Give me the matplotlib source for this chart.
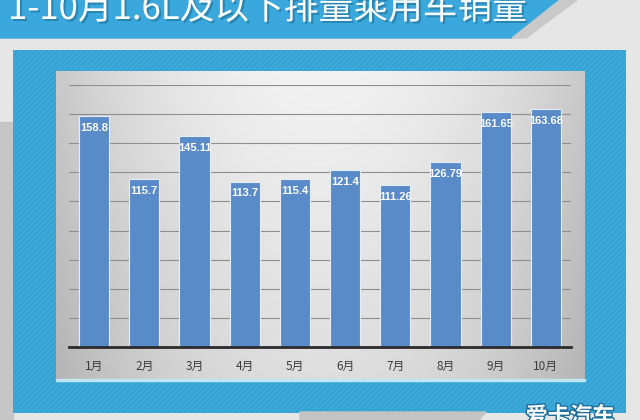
import numpy as np
import matplotlib.pyplot as plt
import matplotlib.patheffects as pe
from matplotlib.patches import Polygon, Rectangle

plt.rcParams['font.family'] = ['Noto Sans CJK SC', 'DejaVu Sans']
plt.rcParams['hatch.linewidth'] = 0.6

# data
months = ['1月', '2月', '3月', '4月', '5月', '6月', '7月', '8月', '9月', '10月']
sales = [158.8, 115.7, 145.11, 113.7, 115.4, 121.4, 111.26, 126.79, 161.65, 163.68]
title = '1-10月1.6L及以下排量乘用车销量'

W, H = 640, 420
fig = plt.figure(figsize=(W / 100, H / 100), dpi=100)

# background layer in pixel coords
bg = fig.add_axes([0, 0, 1, 1])
bg.set_xlim(0, W)
bg.set_ylim(H, 0)
bg.axis('off')
bg.add_patch(Rectangle((0, 0), W, H, color='#e6e6e6', zorder=0))
bg.add_patch(Rectangle((0, 122), 13, H - 122, color='#c6c6c6', zorder=1))

# title banner
bg.add_patch(Polygon([(0, 0), (560, 0), (512, 38), (0, 38)], closed=True,
                     color='#3aa8dc', zorder=2))
bg.add_patch(Polygon([(560, 0), (577, 0), (526, 38), (512, 38)], closed=True,
                     color='#c9c9c9', zorder=2))
bg.text(8, 19, title, color='white', fontsize=25, ha='left', va='baseline',
        zorder=5,
        path_effects=[pe.withSimplePatchShadow(offset=(1.5, -1.5),
                                               shadow_rgbFace='#1f6f96', alpha=0.6)])

# blue frame
bg.add_patch(Rectangle((13, 50), 613, 363, facecolor='#35a3d4',
                       edgecolor='#4ab2e0', hatch='//////', linewidth=0, zorder=2))

# grey gradient panel
ny, nx = 60, 120
gx = np.linspace(-1, 1, nx)
gy = np.linspace(0, 1, ny)
GX, GY = np.meshgrid(gx, gy)
shade = 0.95 - 0.16 * GX ** 2 - 0.08 * GY
img = np.dstack([shade, shade, shade])
bg.imshow(img, extent=(56, 585, 380, 71), aspect='auto', zorder=3,
          interpolation='bilinear')
bg.add_patch(Rectangle((56, 379), 529, 2, color='#bfe6f5', zorder=4))

# bottom decorations
bg.add_patch(Polygon([(300, 412), (486, 412), (479, 420), (300, 420)], closed=True,
                     color='#c4c4c4', zorder=4))
bg.text(570, 405, '爱卡汽车', color='white', fontsize=16, fontweight='bold',
        ha='center', va='top', zorder=5,
        path_effects=[pe.withStroke(linewidth=2, foreground='#1d6f99')])

# chart
ax = fig.add_axes([69 / W, (H - 347) / H, 502 / W, (347 - 85) / H])
ax.patch.set_alpha(0)
x = np.arange(len(months))
bars = ax.bar(x, sales, width=0.6, color='#5a8bc9', edgecolor='#e4ecf6',
              linewidth=0.8, zorder=3)
for xi, v in zip(x, sales):
    ax.annotate(f'{v:g}', (xi, v), xytext=(0, -8.6), textcoords='offset points',
                ha='center', va='center', color='white', fontsize=8,
                fontweight='bold', family='Liberation Sans', zorder=4)

ax.set_xlim(-0.5, len(months) - 0.5)
ax.set_ylim(0, 180)
ax.set_yticks(np.arange(0, 181, 20))
ax.yaxis.grid(True, color='#8e8e8e', linewidth=0.8)
ax.set_axisbelow(True)
ax.tick_params(axis='y', left=False, labelleft=False)
ax.tick_params(axis='x', bottom=False, pad=6, labelsize=8.5, labelcolor='#3c3c3c')
ax.set_xticks(x)
ax.set_xticklabels(months)
for s in ['top', 'right', 'left']:
    ax.spines[s].set_visible(False)
ax.spines['bottom'].set_color('#2b2b2b')
ax.spines['bottom'].set_linewidth(2)
ax.spines['bottom'].set_zorder(5)

fig.savefig('out.png', dpi=100)
